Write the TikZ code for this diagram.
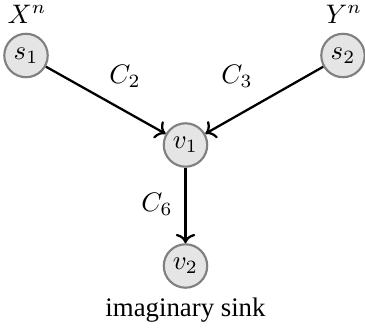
\documentclass[tikz,border=0pt]{standalone}
\usepackage{fontspec}
\setmainfont{Liberation Serif}
\usetikzlibrary{arrows.meta}
\begin{document}
\begin{tikzpicture}[x=0.37314pt,y=-0.37314pt,
  vertex/.style={circle,draw=gray,fill=gray!20,line width=0.8pt,minimum size=16.2pt,inner sep=0pt},
  link/.style={->,line width=0.85pt,black},
  lbl/.style={inner sep=0pt}]
\useasboundingbox (0,0) rectangle (365,328);
\node[vertex] (s1) at (26,55.5) {$s_1$};
\node[vertex] (s2) at (343,55.5) {$s_2$};
\node[vertex] (v1) at (185.5,145) {$v_1$};
\node[vertex] (v2) at (185.5,266) {$v_2$};
\node[lbl] (xn) at (27,14) {$X^n$};
\node[lbl] (yn) at (344,14) {$Y^n$};
\node[lbl] (sink) at (185.5,310) {imaginary sink};
\draw[link] (s1) -- (v1);
\draw[link] (s2) -- (v1);
\draw[link] (v1) -- (v2);
\node[lbl] (c2) at (125,76) {$C_2$};
\node[lbl] (c3) at (237,76) {$C_3$};
\node[lbl] (c6) at (157,204) {$C_6$};
\end{tikzpicture}
\end{document}
